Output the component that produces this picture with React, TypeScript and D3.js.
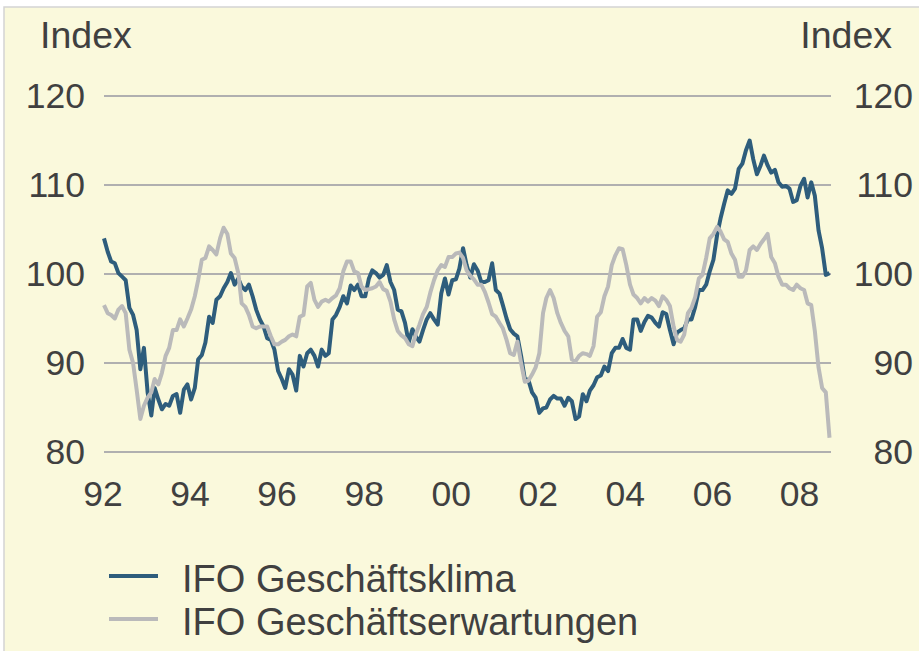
import React from "react";
import * as d3 from "d3";

// monthly values, Jan 1992 .. Sep 2008
const klima = [
  104.0, 102.5, 101.4, 101.2, 100.1, 99.7, 99.3, 96.2, 95.4, 93.7, 89.3, 91.7,
  86.7, 84.1, 87.2, 85.9, 84.8, 85.4, 85.2, 86.3, 86.5, 84.4, 87.0, 87.6,
  85.9, 87.2, 90.4, 90.9, 92.3, 95.2, 94.5, 97.1, 97.5, 98.4, 99.1, 100.1,
  98.8, 99.5, 98.6, 98.2, 98.8, 97.5, 96.0, 94.9, 94.1, 92.8, 92.6, 91.5,
  89.1, 88.2, 87.2, 89.3, 88.7, 86.9, 90.8, 89.6, 91.1, 91.5, 90.8, 89.6,
  91.5, 90.8, 91.1, 94.9, 95.4, 96.3, 97.5, 96.7, 98.7, 98.2, 98.8, 97.5,
  97.5, 99.5, 100.4, 100.1, 99.6, 99.9, 101.0, 99.1, 98.2, 96.0, 95.8, 94.5,
  92.3, 93.8, 93.0, 92.4, 93.7, 94.9, 95.6, 94.9, 94.3, 97.8, 99.5, 97.7,
  99.3, 99.4, 100.6, 102.9, 101.0, 99.6, 101.1, 100.4, 99.1, 99.1, 99.3, 101.2,
  98.2, 97.8, 96.5, 95.0, 93.8, 93.3, 93.0, 90.8, 88.2, 88.1, 86.7, 86.1,
  84.4, 84.9, 85.0, 85.9, 86.3, 86.0, 86.0, 85.2, 86.1, 85.7, 83.7, 84.0,
  86.5, 85.7, 86.9, 87.5, 88.4, 88.6, 89.6, 89.1, 91.1, 91.7, 91.7, 92.7,
  91.7, 91.5, 94.9, 94.9, 93.6, 94.6, 95.3, 95.1, 94.5, 94.1, 95.7, 95.5,
  93.7, 92.1, 93.4, 93.7, 93.9, 94.9, 94.9, 96.3, 98.2, 98.2, 98.8, 100.3,
  101.6, 104.4, 106.2, 107.9, 109.4, 109.0, 109.6, 111.8, 112.4, 113.9, 115.0, 112.9,
  111.2, 112.2, 113.3, 112.2, 111.4, 111.7, 110.3, 109.8, 109.9, 109.6, 108.1, 108.3,
  109.9, 110.7, 108.6, 110.3, 108.8, 104.9, 102.9, 99.9, 100.1,
];

const erwartungen = [
  96.5, 95.6, 95.4, 95.0, 96.0, 96.4, 95.6, 91.5, 90.0, 87.0, 83.7, 85.2,
  86.1, 86.7, 88.2, 87.6, 88.9, 90.8, 91.7, 93.7, 93.7, 94.9, 94.1, 95.0,
  96.0, 97.5, 99.3, 101.6, 101.8, 103.1, 102.7, 102.2, 104.0, 105.2, 104.5, 102.3,
  101.8, 100.1, 96.7, 96.3, 95.4, 94.1, 93.9, 94.1, 94.1, 94.1, 93.0, 92.1,
  92.1, 92.4, 92.6, 93.0, 93.2, 93.0, 95.2, 95.4, 98.6, 99.0, 97.1, 96.3,
  96.9, 97.1, 96.9, 97.3, 97.6, 98.4, 100.3, 101.4, 101.4, 100.3, 100.1, 98.6,
  98.2, 98.3, 98.4, 98.6, 99.1, 98.3, 98.1, 96.9, 94.9, 93.6, 93.1, 92.8,
  92.1, 91.9, 93.2, 94.3, 95.5, 96.3, 97.9, 99.3, 100.4, 101.0, 100.8, 101.9,
  101.9, 102.3, 102.4, 101.8, 100.4, 99.8, 99.4, 98.8, 98.8, 98.0, 96.8, 95.5,
  95.2, 94.5, 93.9, 92.6, 91.1, 90.9, 92.4, 90.0, 87.9, 88.0, 88.7, 89.5,
  91.1, 95.6, 97.3, 98.2, 97.3, 95.6, 94.5, 93.6, 93.0, 90.4, 90.2, 90.8,
  91.1, 91.0, 90.8, 91.9, 95.2, 95.7, 97.5, 98.6, 101.0, 102.1, 102.9, 102.8,
  101.0, 98.8, 97.7, 97.3, 96.7, 97.3, 96.9, 97.3, 97.0, 96.4, 97.5, 97.1,
  96.4, 94.1, 92.6, 92.4, 93.2, 95.6, 96.2, 97.4, 99.5, 99.9, 101.8, 104.0,
  104.5, 105.3, 104.8, 103.9, 103.6, 102.3, 101.6, 99.7, 99.7, 100.4, 102.7, 103.1,
  102.7, 103.4, 103.9, 104.5, 101.9, 101.2, 99.7, 98.8, 98.8, 98.4, 98.2, 98.8,
  98.4, 98.2, 96.7, 96.5, 93.6, 89.5, 87.2, 86.7, 81.6,
];

const yTicks = [80, 90, 100, 110, 120];
const xTickYears = [1992, 1994, 1996, 1998, 2000, 2002, 2004, 2006, 2008];
const legendLabels = ["IFO Geschäftsklima", "IFO Geschäftserwartungen"];

const W = 919;
const H = 651;
const FONT = "'Liberation Sans', Arial, sans-serif";
const TEXT = "#404040";
const BLUE = "#2e5d7c";
const GREY = "#bababa";

export default function App() {
  const x = d3
    .scaleTime()
    .domain([new Date(1992, 0, 1), new Date(2008, 8, 1)])
    .range([104, 829.5]);
  const y = d3.scaleLinear().domain([80, 120]).range([452, 96]);

  const month = (i: number) => new Date(1992, i, 1);
  const line = d3
    .line<number>()
    .x((_, i) => x(month(i)))
    .y((d) => y(d));

  const fmt = d3.timeFormat("%y");

  return (
    <svg
      width={W}
      height={H}
      style={{ position: "absolute", left: 0, top: 0, display: "block" }}
    >
      <rect x={0} y={0} width={W} height={H} fill="#ffffff" />
      <rect
        x={4}
        y={7}
        width={W + 10}
        height={H + 10}
        fill="#faf9dc"
        stroke="#d4d4d4"
        strokeWidth={1.5}
      />

      <g fontFamily={FONT} fill={TEXT} fontSize={37.5}>
        <text x={40} y={48}>
          Index
        </text>
        <text x={892} y={48} textAnchor="end">
          Index
        </text>
      </g>

      {yTicks.map((t) => (
        <g key={t} fontFamily={FONT} fill={TEXT} fontSize={35.5}>
          <line
            x1={104}
            x2={831}
            y1={y(t)}
            y2={y(t)}
            stroke="#b0b0b0"
            strokeWidth={2}
          />
          <text x={85} y={y(t) + 12} textAnchor="end">
            {t}
          </text>
          <text x={913} y={y(t) + 12} textAnchor="end">
            {t}
          </text>
        </g>
      ))}

      {xTickYears.map((yr) => (
        <text
          key={yr}
          x={x(new Date(yr, 0, 1)) - 1}
          y={506}
          fontSize={35.5}
          fontFamily={FONT}
          fill={TEXT}
          textAnchor="middle"
        >
          {fmt(new Date(yr, 0, 1))}
        </text>
      ))}

      <path
        d={line(klima) || ""}
        fill="none"
        stroke={BLUE}
        strokeWidth={4}
        strokeLinejoin="round"
      />
      <path
        d={line(erwartungen) || ""}
        fill="none"
        stroke={GREY}
        strokeWidth={4}
        strokeLinejoin="round"
      />

      {legendLabels.map((label, i) => (
        <g key={label} transform={`translate(0, ${576 + i * 43})`}>
          <line
            x1={109}
            x2={158}
            y1={0}
            y2={0}
            stroke={i === 0 ? BLUE : GREY}
            strokeWidth={4}
          />
          <text x={182} y={16} fontSize={38} fontFamily={FONT} fill={TEXT}>
            {label}
          </text>
        </g>
      ))}
    </svg>
  );
}
